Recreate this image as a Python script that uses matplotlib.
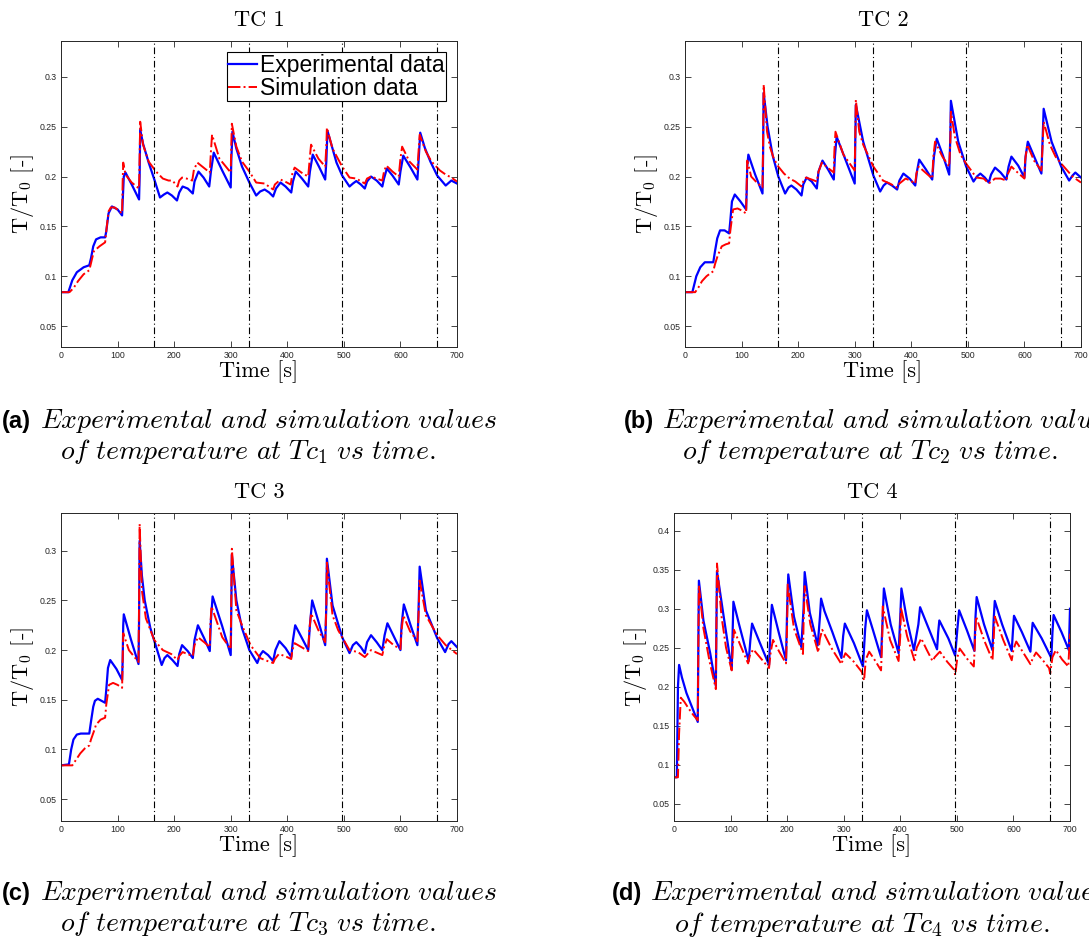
import matplotlib
matplotlib.use('Agg')
import matplotlib.pyplot as plt
from matplotlib.ticker import FormatStrFormatter, MultipleLocator

plt.rcParams['mathtext.fontset'] = 'cm'
plt.rcParams['font.family'] = ['Liberation Sans', 'DejaVu Sans']

# ---------------- data ----------------
# TC 1
t1_exp = [0, 13, 20, 28, 40, 50, 53, 57, 62, 70, 78, 80, 84, 90, 100, 108, 109, 111, 114, 125, 138, 139, 140, 145, 155,
          165, 175, 182, 188, 196, 205, 209, 215, 224, 233, 236, 243, 252, 262, 265, 270, 285, 300, 301, 303, 310, 320,
          333, 345, 352, 360, 368, 375, 380, 388, 397, 407, 410, 415, 426, 437, 440, 445, 456, 467, 469, 471, 478, 487,
          497, 510, 516, 522, 530, 537, 541, 548, 558, 568, 571, 576, 586, 597, 600, 605, 618, 630, 632, 635, 643, 653,
          665, 680, 690, 700]
y1_exp = [0.084, 0.084, 0.096, 0.104, 0.109, 0.111, 0.118, 0.130, 0.137, 0.139, 0.139, 0.145, 0.163, 0.170, 0.167, 0.161,
          0.175, 0.200, 0.204, 0.192, 0.177, 0.200, 0.247, 0.233, 0.214, 0.197, 0.179, 0.182, 0.184, 0.181, 0.176, 0.184,
          0.190, 0.188, 0.183, 0.195, 0.205, 0.199, 0.190, 0.205, 0.224, 0.206, 0.189, 0.215, 0.245, 0.228, 0.210, 0.194,
          0.181, 0.185, 0.187, 0.184, 0.180, 0.188, 0.194, 0.190, 0.184, 0.195, 0.205, 0.198, 0.190, 0.205, 0.222, 0.210,
          0.197, 0.215, 0.246, 0.232, 0.214, 0.201, 0.190, 0.193, 0.1955, 0.192, 0.188, 0.195, 0.200, 0.196, 0.190, 0.198,
          0.208, 0.201, 0.192, 0.205, 0.221, 0.209, 0.197, 0.215, 0.244, 0.229, 0.215, 0.201, 0.191, 0.196, 0.193]
t1_sim = [0, 15, 22, 30, 40, 50, 53, 58, 68, 78, 80, 84, 88, 95, 108, 109, 110, 114, 125, 138, 139, 140, 145, 155, 168,
          180, 190, 197, 206, 209, 214, 222, 232, 235, 241, 252, 263, 265, 267, 280, 300, 301, 302, 310, 320, 333, 345,
          360, 375, 378, 388, 396, 406, 409, 413, 425, 437, 440, 442, 455, 467, 469, 470, 480, 497, 510, 522, 537, 541,
          548, 558, 568, 571, 575, 586, 597, 600, 603, 616, 630, 632, 634, 645, 655, 670, 680, 690, 700]
y1_sim = [0.084, 0.084, 0.088, 0.095, 0.102, 0.106, 0.113, 0.125, 0.130, 0.134, 0.145, 0.165, 0.169, 0.169, 0.163, 0.195,
          0.214, 0.202, 0.194, 0.188, 0.220, 0.255, 0.232, 0.215, 0.205, 0.198, 0.196, 0.196, 0.190, 0.196, 0.199, 0.198,
          0.196, 0.207, 0.214, 0.209, 0.204, 0.225, 0.242, 0.218, 0.204, 0.230, 0.253, 0.230, 0.215, 0.205, 0.194, 0.193,
          0.187, 0.192, 0.197, 0.195, 0.192, 0.203, 0.209, 0.204, 0.200, 0.220, 0.232, 0.218, 0.210, 0.230, 0.249, 0.228,
          0.210, 0.199, 0.198, 0.193, 0.198, 0.200, 0.198, 0.196, 0.205, 0.211, 0.205, 0.200, 0.218, 0.230, 0.215, 0.207,
          0.225, 0.242, 0.225, 0.215, 0.206, 0.202, 0.199, 0.195]

# TC 2
t2_exp = [0, 13, 20, 27, 35, 50, 53, 57, 62, 70, 78, 80, 83, 88, 98, 108, 109, 110, 112, 124, 137, 138, 139, 146, 155,
          165, 177, 183, 188, 197, 206, 209, 215, 224, 233, 236, 243, 253, 263, 265, 268, 285, 300, 301, 302, 315, 333,
          345, 351, 357, 366, 375, 379, 386, 397, 407, 410, 414, 426, 437, 440, 445, 456, 467, 469, 470, 483, 497, 510,
          516, 522, 530, 537, 541, 548, 558, 568, 572, 577, 589, 600, 602, 606, 618, 630, 632, 634, 648, 665, 679, 685,
          690, 700]
y2_exp = [0.084, 0.084, 0.100, 0.109, 0.114, 0.114, 0.125, 0.138, 0.146, 0.146, 0.143, 0.155, 0.175, 0.182, 0.175, 0.167,
          0.185, 0.210, 0.222, 0.202, 0.183, 0.220, 0.284, 0.250, 0.221, 0.200, 0.183, 0.189, 0.191, 0.187, 0.181, 0.192,
          0.199, 0.195, 0.188, 0.205, 0.216, 0.207, 0.197, 0.220, 0.240, 0.215, 0.193, 0.235, 0.272, 0.235, 0.201, 0.185,
          0.191, 0.194, 0.191, 0.187, 0.196, 0.203, 0.198, 0.191, 0.205, 0.217, 0.207, 0.197, 0.220, 0.238, 0.221, 0.202,
          0.240, 0.276, 0.235, 0.210, 0.195, 0.200, 0.203, 0.199, 0.194, 0.202, 0.209, 0.204, 0.197, 0.210, 0.220, 0.211,
          0.199, 0.220, 0.235, 0.219, 0.203, 0.235, 0.268, 0.235, 0.210, 0.196, 0.201, 0.204, 0.199]
t2_sim = [0, 18, 24, 30, 38, 45, 50, 53, 58, 65, 72, 78, 80, 85, 93, 100, 108, 109, 110, 117, 127, 137, 138, 139, 145,
          150, 157, 165, 175, 185, 195, 206, 209, 214, 224, 233, 236, 242, 252, 263, 264, 266, 280, 300, 301, 302, 308,
          315, 333, 350, 362, 375, 379, 390, 398, 407, 409, 413, 425, 437, 439, 442, 455, 467, 469, 470, 477, 487, 497,
          515, 528, 537, 548, 558, 568, 571, 577, 588, 600, 601, 605, 617, 630, 632, 634, 645, 655, 665, 685, 700]
y2_sim = [0.084, 0.084, 0.089, 0.095, 0.100, 0.103, 0.105, 0.112, 0.121, 0.130, 0.132, 0.133, 0.145, 0.167, 0.168, 0.166,
          0.163, 0.190, 0.216, 0.200, 0.194, 0.189, 0.230, 0.292, 0.245, 0.230, 0.218, 0.210, 0.203, 0.198, 0.195, 0.190,
          0.195, 0.199, 0.197, 0.195, 0.205, 0.214, 0.209, 0.204, 0.225, 0.245, 0.222, 0.206, 0.240, 0.277, 0.245, 0.232,
          0.210, 0.196, 0.193, 0.189, 0.193, 0.198, 0.196, 0.193, 0.203, 0.210, 0.204, 0.198, 0.220, 0.235, 0.220, 0.210,
          0.235, 0.265, 0.240, 0.222, 0.213, 0.199, 0.198, 0.193, 0.198, 0.198, 0.196, 0.203, 0.210, 0.204, 0.198, 0.215,
          0.232, 0.216, 0.206, 0.230, 0.255, 0.232, 0.220, 0.213, 0.200, 0.194]

# TC 3
t3_exp = [0, 14, 18, 22, 28, 35, 50, 53, 57, 60, 65, 78, 80, 83, 87, 98, 108, 109, 110, 111, 124, 137, 138, 139, 143,
          148, 158, 170, 178, 183, 188, 197, 206, 209, 214, 224, 233, 236, 242, 253, 263, 265, 268, 285, 300, 301, 302,
          310, 320, 333, 347, 352, 357, 366, 375, 379, 386, 397, 407, 410, 414, 426, 437, 440, 444, 456, 467, 469, 470,
          480, 497, 510, 516, 522, 530, 537, 541, 548, 558, 568, 572, 577, 589, 600, 602, 606, 618, 630, 632, 634, 645,
          665, 679, 685, 690, 700]
y3_exp = [0.084, 0.085, 0.100, 0.110, 0.115, 0.116, 0.116, 0.128, 0.143, 0.149, 0.151, 0.147, 0.160, 0.182, 0.190, 0.181,
          0.170, 0.190, 0.225, 0.236, 0.210, 0.186, 0.230, 0.310, 0.275, 0.250, 0.222, 0.200, 0.185, 0.192, 0.195, 0.190,
          0.184, 0.196, 0.205, 0.199, 0.192, 0.210, 0.225, 0.212, 0.199, 0.230, 0.254, 0.224, 0.195, 0.240, 0.296, 0.250,
          0.222, 0.200, 0.187, 0.195, 0.199, 0.195, 0.189, 0.200, 0.209, 0.202, 0.193, 0.210, 0.225, 0.212, 0.200, 0.225,
          0.250, 0.227, 0.205, 0.245, 0.292, 0.245, 0.213, 0.197, 0.205, 0.208, 0.203, 0.197, 0.208, 0.215, 0.208, 0.200,
          0.215, 0.227, 0.213, 0.200, 0.225, 0.246, 0.225, 0.205, 0.240, 0.284, 0.240, 0.212, 0.198, 0.206, 0.209, 0.203]
t3_sim = [0, 20, 27, 34, 42, 50, 53, 58, 62, 70, 78, 80, 85, 92, 100, 108, 109, 110, 120, 137, 138, 139, 143, 150, 165,
          180, 195, 206, 209, 215, 224, 233, 236, 242, 253, 263, 264, 266, 285, 300, 301, 302, 310, 320, 335, 352, 365,
          375, 378, 385, 396, 407, 409, 413, 425, 437, 439, 442, 455, 467, 469, 470, 480, 490, 510, 525, 537, 548, 568,
          571, 576, 588, 600, 602, 605, 617, 630, 632, 634, 645, 665, 680, 700]
y3_sim = [0.084, 0.084, 0.090, 0.096, 0.101, 0.104, 0.110, 0.118, 0.125, 0.130, 0.132, 0.145, 0.165, 0.167, 0.165, 0.162,
          0.190, 0.217, 0.200, 0.188, 0.250, 0.327, 0.260, 0.232, 0.210, 0.200, 0.196, 0.190, 0.194, 0.198, 0.196, 0.194,
          0.205, 0.213, 0.208, 0.203, 0.225, 0.244, 0.213, 0.201, 0.250, 0.302, 0.240, 0.225, 0.205, 0.192, 0.189, 0.187,
          0.191, 0.196, 0.194, 0.191, 0.200, 0.207, 0.203, 0.199, 0.220, 0.237, 0.220, 0.208, 0.245, 0.288, 0.235, 0.220,
          0.200, 0.198, 0.193, 0.200, 0.195, 0.203, 0.211, 0.205, 0.201, 0.220, 0.235, 0.219, 0.209, 0.235, 0.270, 0.235,
          0.215, 0.205, 0.196]

# TC 4
t4_exp = [0, 5, 7, 9, 14, 22, 34, 42, 43, 44, 52, 64, 74, 75, 76, 87, 102, 104, 105, 115, 132, 135, 138, 152, 168, 171,
          173, 185, 198, 200, 202, 212, 225, 229, 231, 240, 254, 258, 260, 266, 280, 296, 299, 302, 318, 334, 338, 341,
          352, 366, 369, 371, 383, 397, 400, 402, 412, 424, 432, 435, 450, 465, 467, 469, 485, 497, 501, 504, 518, 531,
          533, 535, 548, 563, 565, 567, 580, 597, 599, 601, 615, 630, 632, 634, 650, 667, 669, 671, 685, 698, 700]
y4_exp = [0.084, 0.084, 0.200, 0.228, 0.212, 0.192, 0.170, 0.155, 0.250, 0.336, 0.285, 0.243, 0.201, 0.280, 0.348, 0.294,
          0.222, 0.280, 0.309, 0.280, 0.233, 0.260, 0.281, 0.256, 0.228, 0.280, 0.305, 0.270, 0.234, 0.300, 0.344, 0.290,
          0.251, 0.300, 0.347, 0.295, 0.253, 0.290, 0.313, 0.297, 0.270, 0.237, 0.265, 0.281, 0.256, 0.226, 0.275, 0.298,
          0.272, 0.238, 0.290, 0.326, 0.280, 0.243, 0.290, 0.326, 0.285, 0.247, 0.280, 0.302, 0.275, 0.248, 0.270, 0.285,
          0.262, 0.240, 0.275, 0.298, 0.272, 0.246, 0.290, 0.315, 0.280, 0.247, 0.285, 0.310, 0.280, 0.246, 0.270, 0.291,
          0.270, 0.245, 0.265, 0.282, 0.262, 0.237, 0.270, 0.292, 0.270, 0.247, 0.300]
t4_sim = [0, 7, 9, 12, 18, 26, 34, 42, 43, 44, 52, 63, 74, 75, 76, 84, 92, 102, 104, 106, 118, 131, 134, 140, 154, 168,
          171, 175, 186, 198, 200, 201, 212, 228, 229, 231, 241, 255, 258, 262, 278, 296, 299, 303, 318, 332, 336, 339,
          345, 356, 366, 368, 369, 382, 397, 400, 401, 412, 425, 429, 437, 447, 457, 461, 470, 483, 495, 497, 501, 505,
          518, 530, 532, 534, 548, 563, 565, 567, 582, 597, 600, 605, 618, 630, 634, 640, 652, 663, 665, 669, 675, 686,
          697, 700]
y4_sim = [0.084, 0.084, 0.140, 0.186, 0.181, 0.172, 0.164, 0.157, 0.250, 0.330, 0.275, 0.232, 0.197, 0.280, 0.358, 0.290,
          0.250, 0.221, 0.250, 0.273, 0.252, 0.230, 0.240, 0.248, 0.236, 0.224, 0.245, 0.260, 0.245, 0.230, 0.280, 0.331,
          0.275, 0.242, 0.280, 0.329, 0.280, 0.244, 0.262, 0.273, 0.250, 0.229, 0.236, 0.243, 0.232, 0.219, 0.208, 0.235,
          0.245, 0.233, 0.221, 0.260, 0.303, 0.260, 0.233, 0.265, 0.302, 0.265, 0.234, 0.250, 0.262, 0.247, 0.233, 0.238,
          0.245, 0.232, 0.222, 0.215, 0.238, 0.249, 0.236, 0.226, 0.260, 0.290, 0.260, 0.234, 0.260, 0.290, 0.260, 0.234,
          0.248, 0.258, 0.243, 0.229, 0.236, 0.244, 0.234, 0.224, 0.217, 0.238, 0.247, 0.235, 0.226, 0.268]

vlines = [165, 333, 497, 664]
titles = ['TC 1', 'TC 2', 'TC 3', 'TC 4']
letters = ['(a)', '(b)', '(c)', '(d)']
ylims = [(0.029, 0.336), (0.029, 0.336), (0.028, 0.338), (0.028, 0.4227)]

series = [(t1_exp, y1_exp, t1_sim, y1_sim), (t2_exp, y2_exp, t2_sim, y2_sim),
          (t3_exp, y3_exp, t3_sim, y3_sim), (t4_exp, y4_exp, t4_sim, y4_sim)]

W, H = 1089, 947
fig = plt.figure(figsize=(W / 100, H / 100), dpi=100)

# axes boxes in pixels: left, top, right, bottom
boxes = [(61, 41, 457, 347), (685, 41, 1081, 347), (61, 513, 457, 821), (674, 513, 1070, 821)]
axc = '#262626'
serif = ['cmr10', 'DejaVu Serif']

for i, (l, t, r, b) in enumerate(boxes):
    ax = fig.add_axes([l / W, 1 - b / H, (r - l) / W, (b - t) / H])
    te, ye, ts, ys = series[i]
    ax.plot(te, ye, color='b', lw=1.6, label='Experimental data')
    ax.plot(ts, ys, color='r', lw=1.4, ls='-.', label='Simulation data')
    for v in vlines:
        ax.axvline(v, color='k', lw=0.8, ls=(0, (6, 2.5, 1, 2.5)))
    ax.set_xlim(0, 700)
    ax.set_ylim(*ylims[i])
    ax.xaxis.set_major_locator(MultipleLocator(100))
    ax.yaxis.set_major_locator(MultipleLocator(0.05))
    ax.yaxis.set_major_formatter(FormatStrFormatter('%g'))
    ax.tick_params(direction='in', top=True, right=True, length=4, width=0.6,
                   labelsize=6.3, colors=axc, pad=3)
    for sp in ax.spines.values():
        sp.set_color(axc)
        sp.set_linewidth(0.7)
    ax.set_title(titles[i], fontsize=16, pad=11, family=serif)
    ax.set_xlabel('Time [s]', fontsize=16, labelpad=0, family=serif)
    ax.set_ylabel(r'$\mathrm{T/T_0}$ [-]', fontsize=16, labelpad=3, family=serif)
    if i == 0:
        leg = ax.legend(loc='upper right', fontsize=16.5, handlelength=1.3, handletextpad=0.1,
                        labelspacing=0.0, borderpad=0.05, borderaxespad=0.5, fancybox=False,
                        framealpha=1)
        leg.get_frame().set_edgecolor('k')
        leg.get_frame().set_linewidth(0.8)

# captions: letter x, line-1 y, line-2 y, line-2 centre x
caps = [(2, 421, 451, 248, '1'), (624, 421, 451, 870, '2'), (2, 893, 924, 248, '3'), (612, 893, 924, 862, '4')]
for i, (x0, y1, y2, xc, n) in enumerate(caps):
    fig.text(x0 / W, 1 - y1 / H, letters[i], fontsize=17, fontweight='bold', ha='left', va='center',
             family=['Liberation Sans', 'DejaVu Sans'])
    fig.text((x0 + 38) / W, 1 - y1 / H, r'$\mathit{Experimental\ and\ simulation\ values}$',
             fontsize=20, ha='left', va='center')
    fig.text(xc / W, 1 - y2 / H, r'$\mathit{of\ temperature\ at\ }Tc_' + n + r'\mathit{\ vs\ time.}$',
             fontsize=20, ha='center', va='center')

fig.savefig('out.png', dpi=100)
